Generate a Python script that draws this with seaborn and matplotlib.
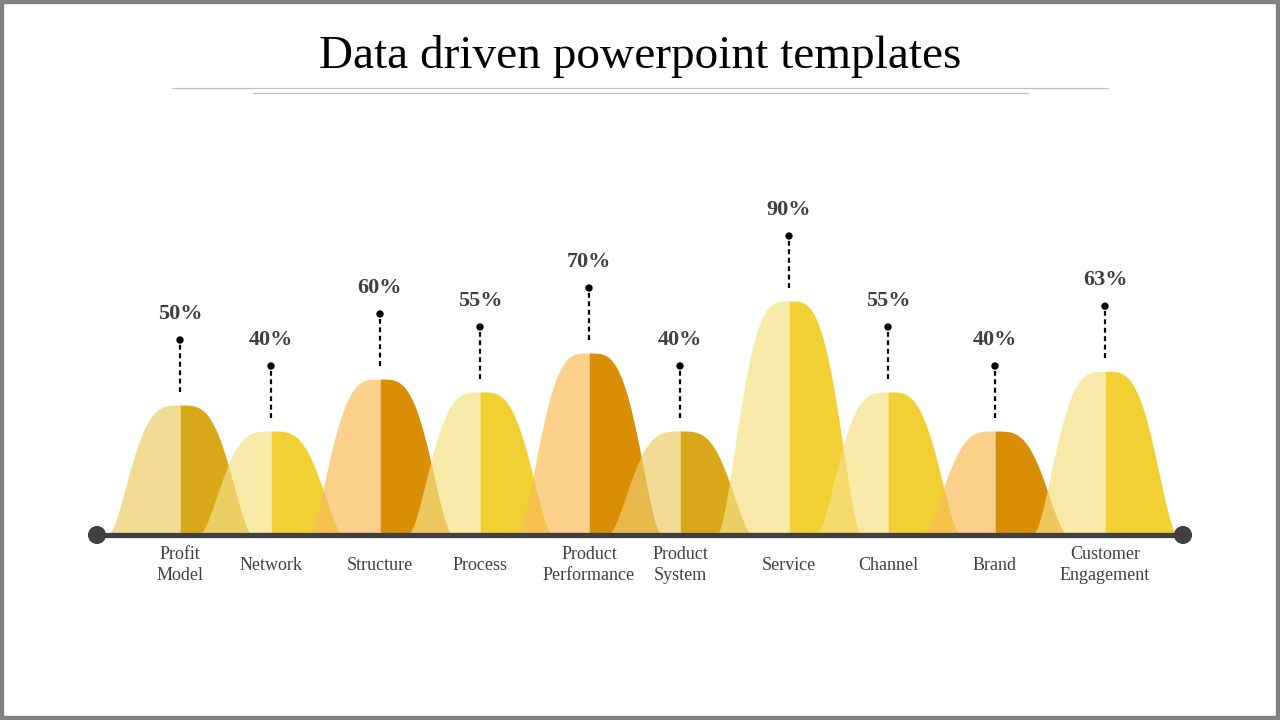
import matplotlib
matplotlib.use("Agg")
import matplotlib.pyplot as plt
from matplotlib.lines import Line2D
from matplotlib.patches import Rectangle
import numpy as np
import seaborn as sns

# chart data
categories = ["Profit\nModel", "Network", "Structure", "Process", "Product\nPerformance",
              "Product\nSystem", "Service", "Channel", "Brand", "Customer\nEngagement"]
values = [50, 40, 60, 55, 70, 40, 90, 55, 40, 63]
tones = ["tan", "yellow", "orange", "yellow", "orange",
         "tan", "yellow", "yellow", "orange", "yellow"]

# layout, in pixels of the 1280x720 canvas
centers = [180, 271, 380, 480, 589, 680, 789, 888, 995, 1105]
HALF = 73          # half width of one hump
BASE_Y = 535       # pixel row of the axis line
SCALE = 2.6        # pixels per percent

# (light half drawn at alpha 0.7, dark half opaque)
palette = {
    "tan": ("#ECCC68", "#D9A818"),
    "yellow": ("#F5E083", "#F2CF33"),
    "orange": ("#F8BC58", "#D98E06"),
}
TEXT = "#404040"

sns.set_style("white")
plt.rcParams["font.family"] = ["Liberation Serif", "DejaVu Serif"]

fig = plt.figure(figsize=(12.8, 7.2), dpi=100)
ax = fig.add_axes([0, 0, 1, 1])
ax.set_xlim(0, 1280)
ax.set_ylim((BASE_Y - 720) / SCALE, BASE_Y / SCALE)
ax.axis("off")


def bump(t):
    u = np.clip(np.abs(t), 0, 1) ** 1.8
    return 1 - (3 * u ** 2 - 2 * u ** 3)


# dark halves first, then the see-through light halves over them
for c, v, tone in zip(centers, values, tones):
    xs = np.linspace(c, c + HALF, 200)
    ax.fill_between(xs, 0, v * bump((xs - c) / HALF), color=palette[tone][1], lw=0, zorder=2)
for c, v, tone in zip(centers, values, tones):
    xs = np.linspace(c - HALF, c, 200)
    ax.fill_between(xs, 0, v * bump((xs - c) / HALF), color=palette[tone][0], alpha=0.7, lw=0, zorder=3)

# axis line with round ends
ax.plot([97, 1183], [0, 0], color=TEXT, lw=3.8, zorder=5, solid_capstyle="butt")
sns.scatterplot(x=[97, 1183], y=[0, 0], color=TEXT, s=170, edgecolor="none", zorder=6, ax=ax)

# pins and value labels
pin_top = [v + 25 for v in values]
for c, v, top in zip(centers, values, pin_top):
    ax.plot([c, c], [v + 5, top], color="black", lw=1.6, ls=(0, (2.2, 1.6)), zorder=4)
    ax.text(c, v + 35, f"{v}%", ha="center", va="center", fontsize=16,
            fontweight="bold", color=TEXT)
sns.scatterplot(x=centers, y=pin_top, color="black", s=28, edgecolor="none", zorder=6, ax=ax)

for c, name in zip(centers, categories):
    ax.text(c, -30 / SCALE, name, ha="center", va="center", fontsize=13,
            color=TEXT, linespacing=1.3)

# title and the two rules under it
fig.text(0.5, 1 - 56 / 720, "Data driven powerpoint templates", ha="center", va="center",
         fontsize=34, color="black")
fig.add_artist(Line2D([172 / 1280, 1108 / 1280], [1 - 88 / 720] * 2, color="#BFBFBF", lw=0.9))
fig.add_artist(Line2D([253 / 1280, 1028 / 1280], [1 - 93 / 720] * 2, color="#BFBFBF", lw=0.9))

# slide frame
fig.add_artist(Rectangle((0, 0), 1, 1, transform=fig.transFigure, fill=False,
                         edgecolor="#808080", lw=6))

fig.savefig("out.png", dpi=100)
